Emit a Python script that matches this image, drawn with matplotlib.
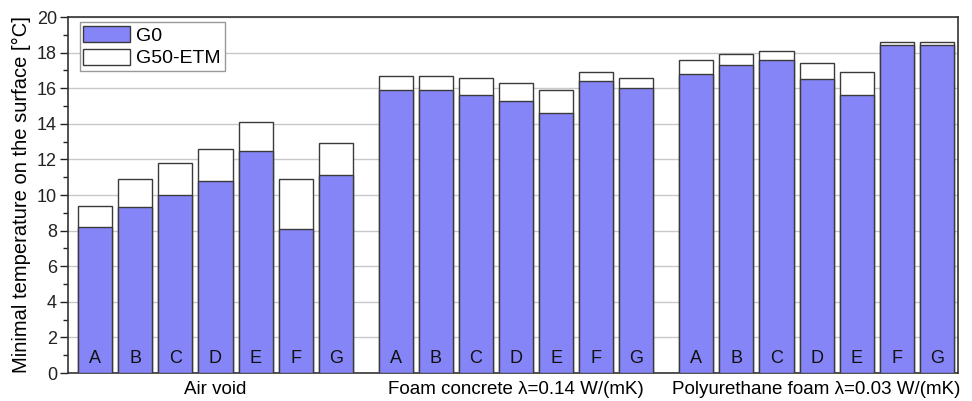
import numpy as np
import matplotlib
matplotlib.use('Agg')
import matplotlib.pyplot as plt
from matplotlib.ticker import MultipleLocator

plt.rcParams['font.family'] = ['Liberation Sans', 'DejaVu Sans']

# Data
letters = ['A', 'B', 'C', 'D', 'E', 'F', 'G']
groups = ['Air void', 'Foam concrete \u03bb=0.14 W/(mK)', 'Polyurethane foam \u03bb=0.03 W/(mK)']
g0 = [
    [8.2, 9.3, 10.0, 10.8, 12.5, 8.1, 11.1],
    [15.9, 15.9, 15.6, 15.3, 14.6, 16.4, 16.0],
    [16.8, 17.3, 17.6, 16.5, 15.6, 18.4, 18.4],
]
g50 = [
    [9.4, 10.9, 11.8, 12.6, 14.1, 10.9, 12.9],
    [16.7, 16.7, 16.6, 16.3, 15.9, 16.9, 16.6],
    [17.6, 17.9, 18.1, 17.4, 16.9, 18.6, 18.6],
]

blue = '#8585f7'
edge = '#3a3a3a'
group_step = 7.5
width = 0.85

fig = plt.figure(figsize=(9.72, 4.01), dpi=100)
ax = fig.add_axes([0.07, 0.0698, 0.9156, 0.8878])

for gi in range(len(groups)):
    x = np.arange(len(letters)) + gi * group_step
    ax.bar(x, g50[gi], width=width, color='white', edgecolor=edge, linewidth=1.0,
           zorder=2, label='G50-ETM' if gi == 0 else None)
    ax.bar(x, g0[gi], width=width, color=blue, edgecolor=edge, linewidth=1.0,
           zorder=3, label='G0' if gi == 0 else None)
    for xi, let in zip(x, letters):
        ax.text(xi, 0.82, let, ha='center', va='center', fontsize=13, color='#111111', zorder=4)
    ax.text(x.mean(), -0.45, groups[gi], ha='center', va='top', fontsize=13.5,
            clip_on=False)

ax.set_xlim(-0.68, 2 * group_step + 6 + 0.53)
ax.set_ylim(0, 20)
ax.set_xticks([])
ax.yaxis.set_major_locator(MultipleLocator(2))
ax.yaxis.set_minor_locator(MultipleLocator(1))
ax.tick_params(axis='y', which='major', direction='out', length=6, width=1, labelsize=13,
               colors='#222222', pad=2)
ax.tick_params(axis='y', which='minor', direction='out', length=3.5, width=1, colors='#222222')
ax.grid(axis='y', which='major', color='#c8c8c8', linewidth=1, zorder=0)
ax.set_axisbelow(True)
for s in ax.spines.values():
    s.set_color('#333333')
    s.set_linewidth(1.2)
ax.set_ylabel('Minimal temperature on the surface [\u00b0C]', fontsize=14.5, labelpad=4)

handles, labels = ax.get_legend_handles_labels()
order = [labels.index('G0'), labels.index('G50-ETM')]
leg = ax.legend([handles[i] for i in order], [labels[i] for i in order],
                loc='upper left', bbox_to_anchor=(0.013, 0.986), fontsize=14,
                handlelength=2.4, handleheight=0.9, fancybox=False, framealpha=1,
                borderpad=0.2, labelspacing=0.2, handletextpad=0.3, borderaxespad=0)
leg.get_frame().set_edgecolor('#999999')
leg.get_frame().set_linewidth(1)

fig.savefig('out.png', dpi=100)
